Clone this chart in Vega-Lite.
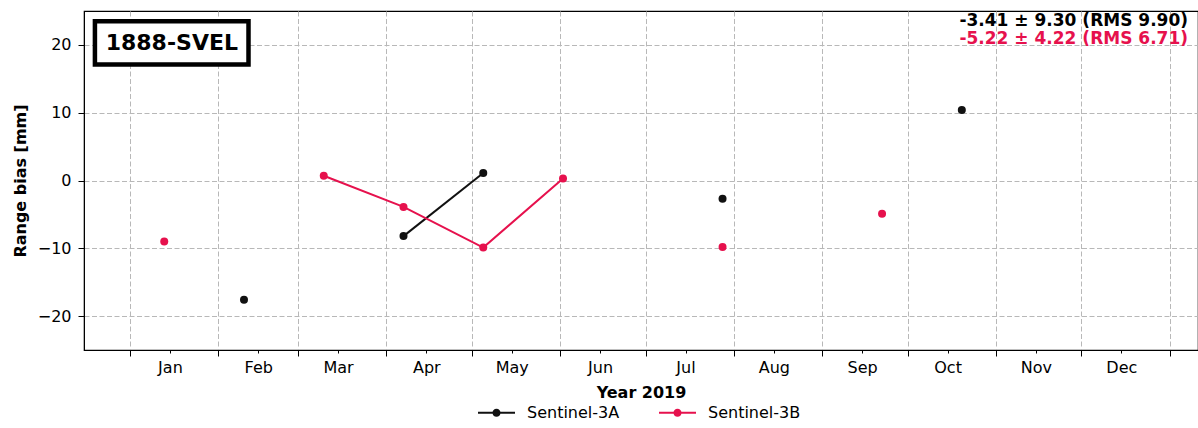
{
  "$schema": "https://vega.github.io/schema/vega-lite/v6.json",
  "width": 1114,
  "height": 339,
  "autosize": {"type": "none"},
  "padding": {"left": 84, "top": 11, "right": 0, "bottom": 78},
  "config": {
    "font": "DejaVu Sans",
    "view": {"stroke": "#000000", "strokeWidth": 1.2}
  },
  "data": {
    "values": [
      {"date": "2019-02-10", "bias": -17.6, "satellite": "Sentinel-3A", "segment": "A1"},
      {"date": "2019-04-07", "bias": -8.2, "satellite": "Sentinel-3A", "segment": "A2"},
      {"date": "2019-05-05", "bias": 1.1, "satellite": "Sentinel-3A", "segment": "A2"},
      {"date": "2019-07-28", "bias": -2.7, "satellite": "Sentinel-3A", "segment": "A3"},
      {"date": "2019-10-20", "bias": 10.4, "satellite": "Sentinel-3A", "segment": "A4"},
      {"date": "2019-01-13", "bias": -9.0, "satellite": "Sentinel-3B", "segment": "B1"},
      {"date": "2019-03-10", "bias": 0.7, "satellite": "Sentinel-3B", "segment": "B2"},
      {"date": "2019-04-07", "bias": -3.9, "satellite": "Sentinel-3B", "segment": "B2"},
      {"date": "2019-05-05", "bias": -9.9, "satellite": "Sentinel-3B", "segment": "B2"},
      {"date": "2019-06-02", "bias": 0.3, "satellite": "Sentinel-3B", "segment": "B2"},
      {"date": "2019-07-28", "bias": -9.8, "satellite": "Sentinel-3B", "segment": "B3"},
      {"date": "2019-09-22", "bias": -4.9, "satellite": "Sentinel-3B", "segment": "B4"}
    ]
  },
  "encoding": {
    "x": {
      "field": "date",
      "type": "temporal",
      "scale": {
        "type": "utc",
        "domain": [
          {"year": 2018, "month": 12, "date": 15, "hours": 20, "utc": true},
          {"year": 2020, "month": 1, "date": 10, "hours": 22, "utc": true}
        ]
      },
      "axis": {
        "title": "Year 2019",
        "titleFontSize": 16,
        "titleFontWeight": "bold",
        "titleColor": "#000000",
        "titlePadding": 6,
        "values": [
          {"year": 2019, "month": 1, "date": 1, "utc": true},
          {"year": 2019, "month": 2, "date": 1, "utc": true},
          {"year": 2019, "month": 3, "date": 1, "utc": true},
          {"year": 2019, "month": 4, "date": 1, "utc": true},
          {"year": 2019, "month": 5, "date": 1, "utc": true},
          {"year": 2019, "month": 6, "date": 1, "utc": true},
          {"year": 2019, "month": 7, "date": 1, "utc": true},
          {"year": 2019, "month": 8, "date": 1, "utc": true},
          {"year": 2019, "month": 9, "date": 1, "utc": true},
          {"year": 2019, "month": 10, "date": 1, "utc": true},
          {"year": 2019, "month": 11, "date": 1, "utc": true},
          {"year": 2019, "month": 12, "date": 1, "utc": true},
          {"year": 2020, "month": 1, "date": 1, "utc": true},
          {"year": 2019, "month": 1, "date": 15, "utc": true},
          {"year": 2019, "month": 2, "date": 15, "utc": true},
          {"year": 2019, "month": 3, "date": 15, "utc": true},
          {"year": 2019, "month": 4, "date": 15, "utc": true},
          {"year": 2019, "month": 5, "date": 15, "utc": true},
          {"year": 2019, "month": 6, "date": 15, "utc": true},
          {"year": 2019, "month": 7, "date": 15, "utc": true},
          {"year": 2019, "month": 8, "date": 15, "utc": true},
          {"year": 2019, "month": 9, "date": 15, "utc": true},
          {"year": 2019, "month": 10, "date": 15, "utc": true},
          {"year": 2019, "month": 11, "date": 15, "utc": true},
          {"year": 2019, "month": 12, "date": 15, "utc": true}
        ],
        "labelExpr": "utcdate(datum.value) == 1 ? '' : utcFormat(datum.value, '%b')",
        "labelFontSize": 16,
        "labelColor": "#000000",
        "labelPadding": 6,
        "labelFlush": false,
        "labelOverlap": false,
        "tickSize": {"condition": {"test": "utcdate(datum.value) == 1", "value": 6}, "value": 3},
        "tickColor": "#000000",
        "domainColor": "#000000",
        "grid": true,
        "gridColor": "#b8b8b8",
        "gridDash": [5, 2.5],
        "gridWidth": 1,
        "gridOpacity": {"condition": {"test": "utcdate(datum.value) == 1", "value": 1}, "value": 0}
      }
    },
    "y": {
      "field": "bias",
      "type": "quantitative",
      "scale": {"domain": [-25, 25], "nice": false, "zero": false},
      "axis": {
        "title": "Range bias [mm]",
        "titleFontSize": 16,
        "titleFontWeight": "bold",
        "titleColor": "#000000",
        "titlePadding": 9,
        "values": [-20, -10, 0, 10, 20],
        "labelExpr": "replace(format(datum.value, 'd'), '-', '\u2212')",
        "labelFontSize": 16,
        "labelColor": "#000000",
        "labelPadding": 7,
        "tickSize": 6,
        "tickColor": "#000000",
        "domainColor": "#000000",
        "grid": true,
        "gridColor": "#b8b8b8",
        "gridDash": [5, 2.5],
        "gridWidth": 1
      }
    }
  },
  "layer": [
    {
      "transform": [{"filter": "datum.segment == 'A1'"}],
      "mark": {"type": "rect", "fill": "#ffffff", "stroke": "#000000", "strokeWidth": 4.5},
      "encoding": {
        "x": {"datum": {"year": 2018, "month": 12, "date": 19, "hours": 16, "utc": true}, "type": "temporal"},
        "x2": {"datum": {"year": 2019, "month": 2, "date": 11, "hours": 14, "utc": true}},
        "y": {"datum": 23.5, "type": "quantitative"},
        "y2": {"datum": 17.1}
      }
    },
    {
      "transform": [{"filter": "datum.segment == 'A1'"}],
      "mark": {"type": "text", "fontSize": 22, "fontWeight": "bold", "color": "#000000", "align": "center", "baseline": "middle"},
      "encoding": {
        "x": {"datum": {"year": 2019, "month": 1, "date": 15, "hours": 16, "utc": true}, "type": "temporal"},
        "y": {"datum": 20.3, "type": "quantitative"},
        "text": {"value": "1888-SVEL"}
      }
    },
    {
      "transform": [{"filter": "datum.satellite == 'Sentinel-3A'"}],
      "mark": {"type": "line", "strokeWidth": 2, "color": "#111111"},
      "encoding": {
        "detail": {"field": "segment", "type": "nominal"}
      }
    },
    {
      "transform": [{"filter": "datum.satellite == 'Sentinel-3B'"}],
      "mark": {"type": "line", "strokeWidth": 2, "color": "#e6114d"},
      "encoding": {
        "detail": {"field": "segment", "type": "nominal"}
      }
    },
    {
      "mark": {"type": "circle", "size": 64, "opacity": 1},
      "encoding": {
        "color": {
          "field": "satellite",
          "type": "nominal",
          "scale": {"domain": ["Sentinel-3A", "Sentinel-3B"], "range": ["#111111", "#e6114d"]},
          "legend": {
            "orient": "none",
            "legendX": 394,
            "legendY": 383,
            "direction": "horizontal",
            "title": null,
            "padding": 0,
            "symbolType": "M-1,-0.06L1,-0.06L1,0.06L-1,0.06Z M0.22,0A0.22,0.22 0 1,1 -0.22,0A0.22,0.22 0 1,1 0.22,0Z",
            "symbolSize": 1369,
            "symbolStrokeWidth": 0,
            "symbolOpacity": 1,
            "labelFontSize": 16,
            "labelColor": "#000000",
            "labelOffset": 12,
            "columnPadding": 39
          }
        }
      }
    },
    {
      "transform": [{"filter": "datum.segment == 'A1'"}],
      "mark": {"type": "text", "fontSize": 17, "fontWeight": "bold", "color": "#000000", "align": "right", "baseline": "middle"},
      "encoding": {
        "x": {"datum": {"year": 2020, "month": 1, "date": 7, "hours": 10, "utc": true}, "type": "temporal"},
        "y": {"datum": 23.55, "type": "quantitative"},
        "text": {"value": "-3.41 \u00b1 9.30 (RMS 9.90)"}
      }
    },
    {
      "transform": [{"filter": "datum.segment == 'A1'"}],
      "mark": {"type": "text", "fontSize": 17, "fontWeight": "bold", "color": "#e6114d", "align": "right", "baseline": "middle"},
      "encoding": {
        "x": {"datum": {"year": 2020, "month": 1, "date": 7, "hours": 10, "utc": true}, "type": "temporal"},
        "y": {"datum": 20.9, "type": "quantitative"},
        "text": {"value": "-5.22 \u00b1 4.22 (RMS 6.71)"}
      }
    }
  ]
}
